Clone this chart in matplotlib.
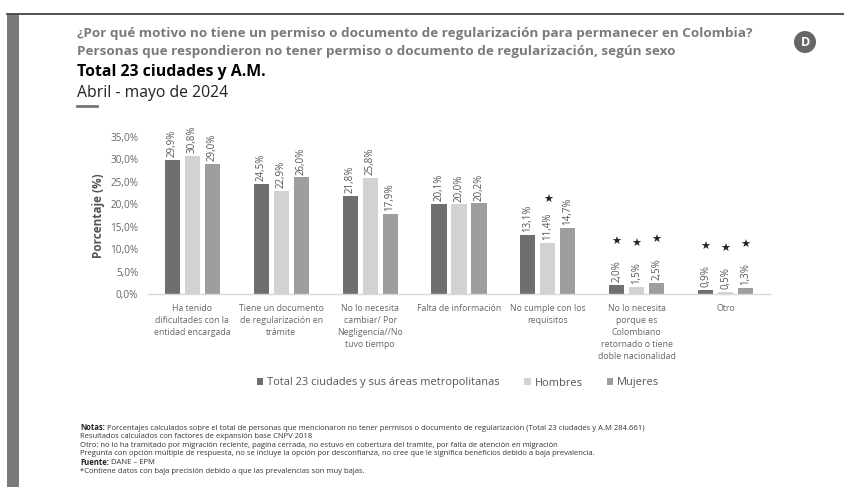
import matplotlib
matplotlib.use("Agg")
import matplotlib.pyplot as plt
from matplotlib.patches import Circle, Rectangle
import numpy as np

plt.rcParams['font.family'] = ['Open Sans', 'DejaVu Sans']

#------------------- DATA -------------------#
categories = [
    "Ha tenido\ndificultades con la\nentidad encargada",
    "Tiene un documento\nde regularización en\ntrámite",
    "No lo necesita\ncambiar/ Por\nNegligencia//No\ntuvo tiempo",
    "Falta de información",
    "No cumple con los\nrequisitos",
    "No lo necesita\nporque es\nColombiano\nretornado o tiene\ndoble nacionalidad",
    "Otro",
]
series_names = ["Total 23 ciudades y sus áreas metropolitanas", "Hombres", "Mujeres"]
total = [29.9, 24.5, 21.8, 20.1, 13.1, 2.0, 0.9]
hombres = [30.8, 22.9, 25.8, 20.0, 11.4, 1.5, 0.5]
mujeres = [29.0, 26.0, 17.9, 20.2, 14.7, 2.5, 1.3]
# low precision flags (star)
star_total = [0, 0, 0, 0, 0, 1, 1]
star_hombres = [0, 0, 0, 0, 1, 1, 1]
star_mujeres = [0, 0, 0, 0, 0, 1, 1]
yticks = [0, 5, 10, 15, 20, 25, 30, 35]

title1 = "¿Por qué motivo no tiene un permiso o documento de regularización para permanecer en Colombia?"
title2 = "Personas que respondieron no tener permiso o documento de regularización, según sexo"
title3 = "Total 23 ciudades y A.M."
title4 = "Abril - mayo de 2024"
notes = [
    ("Notas:", " Porcentajes calculados sobre el total de personas que mencionaron no tener permisos o documento de regularización (Total 23 ciudades y A.M 284.661)"),
    ("", "Resultados calculados con factores de expansión base CNPV 2018"),
    ("", "Otro: no lo ha tramitado por migración reciente, pagina cerrada, no estuvo en cobertura del tramite, por falta de atención en migración"),
    ("", "Pregunta con opción múltiple de respuesta, no se incluye la opción por desconfianza, no cree que le significa beneficios debido a baja prevalencia."),
    ("Fuente:", " DANE – EPM"),
    ("", "*Contiene datos con baja precisión debido a que las prevalencias son muy bajas."),
]

colors = ["#6f6f6f", "#d2d2d2", "#9e9e9e"]

#------------------- FIGURE -------------------#
W, H = 844, 487
fig = plt.figure(figsize=(W / 100, H / 100), dpi=100)
fig.patch.set_facecolor("white")

def fx(px):
    return px / W

def fy(py):
    return 1 - py / H

# frame: top line and left bar
fig.add_artist(plt.Line2D([fx(7), 1], [fy(13.5), fy(13.5)], color="#444444", lw=1.3))
fig.add_artist(Rectangle((fx(7), 0), fx(12), fy(13.5), color="#7a7a7a", lw=0))

# logo (drawn in inches so it stays round)
fig.add_artist(Circle((8.05, (H - 42) / 100), 0.11, transform=fig.dpi_scale_trans,
                      color="#666666", lw=0))
fig.text(fx(805.5), fy(42), "D", color="white", fontsize=9, fontweight="bold",
         ha="center", va="center")

# titles
fig.text(fx(77), fy(33), title1, fontsize=9.7, fontweight="bold", color="#7a7a7a", va="center")
fig.text(fx(77), fy(51), title2, fontsize=9.7, fontweight="bold", color="#7a7a7a", va="center")
fig.text(fx(77), fy(72), title3, fontsize=11.4, fontweight="bold", color="black", va="center")
fig.text(fx(77), fy(93), title4, fontsize=11.3, color="#222222", va="center")
fig.add_artist(plt.Line2D([fx(77), fx(97)], [fy(106), fy(106)], color="#777777", lw=2))

#------------------- AXES -------------------#
ax = fig.add_axes([fx(148), fy(294), fx(770) - fx(148), fy(137) - fy(294)])
x = np.arange(len(categories))
bw = 0.17
step = 0.225
for k, (vals, stars) in enumerate([(total, star_total), (hombres, star_hombres), (mujeres, star_mujeres)]):
    xs = x + (k - 1) * step
    ax.bar(xs, vals, width=bw, color=colors[k], label=series_names[k], zorder=2)
    for xi, v, s in zip(xs, vals, stars):
        ax.annotate(f"{v:.1f}%".replace(".", ","), (xi, v), xytext=(0, 2),
                    textcoords="offset points", rotation=90, ha="center", va="bottom",
                    fontsize=7, color="#555555", annotation_clip=False)
        if s:
            ax.annotate("★", (xi, v), xytext=(0, 31), textcoords="offset points",
                        ha="center", va="center", fontsize=8, color="#222222",
                        family=["DejaVu Sans"], annotation_clip=False)

ax.set_xlim(-0.5, len(categories) - 0.5)
ax.set_ylim(0, 35)
ax.set_yticks(yticks)
ax.set_yticklabels([f"{t:.1f}%".replace(".", ",") for t in yticks], fontsize=7.2, color="#666666")
ax.set_xticks(x)
ax.set_xticklabels(categories, fontsize=6.3, color="#666666", linespacing=1.45, va="top")
ax.tick_params(axis="both", length=0)
ax.tick_params(axis="x", pad=7)
ax.tick_params(axis="y", pad=7)
for sp in ["top", "right", "left"]:
    ax.spines[sp].set_visible(False)
ax.spines["bottom"].set_color("#d9d9d9")
ax.spines["bottom"].set_linewidth(1)
ax.set_facecolor("none")
ax.set_ylabel("Porcentaje (%)", fontsize=8.5, fontweight="bold", color="#555555", labelpad=4)

leg = fig.legend(loc="center", bbox_to_anchor=(fx(458), fy(383)), ncol=3, frameon=False,
                 fontsize=7.9, handlelength=0.6, handleheight=0.6, handletextpad=0.35,
                 columnspacing=2.2, labelcolor="#555555")

# notes
ny = 428
for bold, rest in notes:
    if bold:
        t = fig.text(fx(80), fy(ny), bold, fontsize=5.5, fontweight="bold", color="#222222", va="center")
        fig.canvas.draw()
        bb = t.get_window_extent()
        fig.text(bb.x1 / W, fy(ny), rest, fontsize=5.5, color="#333333", va="center")
    else:
        fig.text(fx(80), fy(ny), rest, fontsize=5.5, color="#333333", va="center")
    ny += 8.6

fig.savefig("out.png", dpi=100)
